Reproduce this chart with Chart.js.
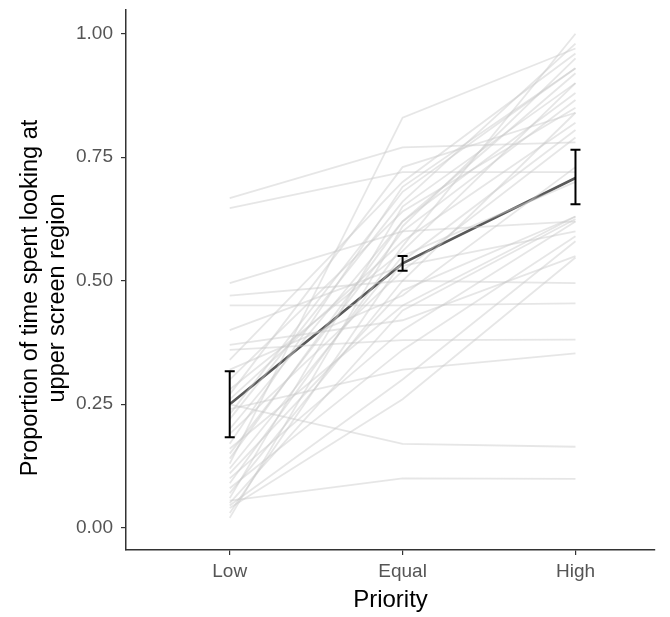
<!DOCTYPE html>
<html>
<head>
<meta charset="utf-8">
<script src="https://cdn.jsdelivr.net/npm/chart.js@4"></script>
<style>
  html, body { margin: 0; padding: 0; background: #fff; }
  #wrap { width: 670px; height: 617px; }
</style>
</head>
<body>
<div id="wrap"><canvas id="chart" width="670" height="617"></canvas></div>
<script>
const categories = ['Low', 'Equal', 'High'];
const yTicks = [0, 0.25, 0.5, 0.75, 1.0];
const yTitle = ['Proportion of time spent looking at', 'upper screen region'];

// one row per participant: [Low, Equal, High]
const participants = [
    [0.667, 0.77, 0.78],
    [0.647, 0.72, 0.72],
    [0.495, 0.60, 0.62],
    [0.47, 0.50, 0.495],
    [0.45, 0.45, 0.454],
    [0.40, 0.53, 0.60],
    [0.37, 0.42, 0.55],
    [0.36, 0.38, 0.381],
    [0.34, 0.70, 0.96],
    [0.30, 0.64, 0.85],
    [0.28, 0.56, 0.90],
    [0.26, 0.58, 0.82],
    [0.25, 0.17, 0.164],
    [0.24, 0.32, 0.353],
    [0.22, 0.66, 0.98],
    [0.20, 0.62, 0.88],
    [0.19, 0.52, 0.79],
    [0.17, 0.69, 0.93],
    [0.16, 0.45, 0.63],
    [0.15, 0.60, 0.866],
    [0.13, 0.83, 0.97],
    [0.12, 0.55, 0.70],
    [0.11, 0.48, 0.63],
    [0.10, 0.40, 0.62],
    [0.09, 0.57, 1.00],
    [0.08, 0.36, 0.59],
    [0.07, 0.50, 0.84],
    [0.06, 0.65, 0.90],
    [0.055, 0.10, 0.099],
    [0.05, 0.44, 0.625],
    [0.04, 0.26, 0.547],
    [0.03, 0.54, 0.805],
    [0.02, 0.61, 0.95],
    [0.045, 0.30, 0.58],
    [0.23, 0.68, 0.93],
    [0.32, 0.47, 0.73],
    [0.27, 0.73, 0.84],
    [0.14, 0.62, 0.92]
];

const meanValues = [0.250, 0.535, 0.708];
const errLower = [0.183, 0.520, 0.655];
const errUpper = [0.317, 0.550, 0.765];

const toPoints = vals => vals.map((v, i) => ({ x: i + 1, y: v }));

const datasets = participants.map(p => ({
    data: toPoints(p),
    borderColor: 'rgba(200,200,200,0.45)',
    borderWidth: 1.8,
    pointRadius: 0,
    tension: 0
}));

datasets.push({
    data: toPoints(meanValues),
    borderColor: '#595959',
    borderWidth: 2.6,
    pointRadius: 0,
    tension: 0
});

const font = 'Liberation Sans, Arial, Helvetica, sans-serif';

// error bars drawn through the chart's scales
const errorBars = {
    id: 'errorBars',
    afterDatasetsDraw(chart) {
        const { ctx, scales: { x, y } } = chart;
        ctx.save();
        ctx.strokeStyle = '#000';
        ctx.lineWidth = 2;
        meanValues.forEach((m, i) => {
            const px = x.getPixelForValue(i + 1);
            const top = y.getPixelForValue(errUpper[i]);
            const bot = y.getPixelForValue(errLower[i]);
            ctx.beginPath();
            ctx.moveTo(px, top); ctx.lineTo(px, bot);
            ctx.moveTo(px - 5, top); ctx.lineTo(px + 5, top);
            ctx.moveTo(px - 5, bot); ctx.lineTo(px + 5, bot);
            ctx.stroke();
        });
        ctx.restore();
    }
};

// two-line y axis title, placed a little below the panel centre like the original
const yAxisTitle = {
    id: 'yAxisTitle',
    afterDraw(chart) {
        const { ctx, chartArea } = chart;
        const cy = (chartArea.top + chartArea.bottom) / 2 + 18;
        ctx.save();
        ctx.fillStyle = '#000';
        ctx.font = '23.5px ' + font;
        ctx.textAlign = 'center';
        ctx.textBaseline = 'middle';
        yTitle.forEach((line, i) => {
            ctx.save();
            ctx.translate(31 + i * 27, cy);
            ctx.rotate(-Math.PI / 2);
            ctx.fillText(line, 0, 0);
            ctx.restore();
        });
        ctx.restore();
    }
};

new Chart(document.getElementById('chart'), {
    type: 'line',
    data: { datasets },
    plugins: [errorBars, yAxisTitle],
    options: {
        responsive: false,
        animation: false,
        layout: { padding: { top: 0, right: 15, bottom: 2, left: 0 } },
        plugins: {
            legend: { display: false },
            tooltip: { enabled: false }
        },
        scales: {
            x: {
                type: 'linear',
                min: 0.4,
                max: 3.46,
                afterBuildTicks: s => { s.ticks = [1, 2, 3].map(v => ({ value: v })); },
                afterFit: s => { s.height = 65; },
                border: { display: true, color: '#333', width: 1.5 },
                grid: { drawOnChartArea: false, drawTicks: true, tickLength: 5, tickColor: '#333', lineWidth: 1.2 },
                ticks: {
                    callback: v => categories[v - 1],
                    color: '#555',
                    font: { family: font, size: 19 },
                    padding: 5
                },
                title: {
                    display: true,
                    text: 'Priority',
                    color: '#000',
                    font: { family: font, size: 24 },
                    padding: { top: 0, bottom: 0 }
                }
            },
            y: {
                min: -0.045,
                max: 1.048,
                afterBuildTicks: s => { s.ticks = yTicks.map(v => ({ value: v })); },
                afterFit: s => { s.width = 126; s.paddingTop = 10; s.paddingBottom = 0; },
                border: { display: true, color: '#333', width: 1.5 },
                grid: { drawOnChartArea: false, drawTicks: true, tickLength: 5, tickColor: '#333', lineWidth: 1.2 },
                ticks: {
                    callback: v => v.toFixed(2),
                    color: '#555',
                    font: { family: font, size: 19 },
                    padding: 8
                },
                title: { display: false }
            }
        }
    }
});
</script>
</body>
</html>
